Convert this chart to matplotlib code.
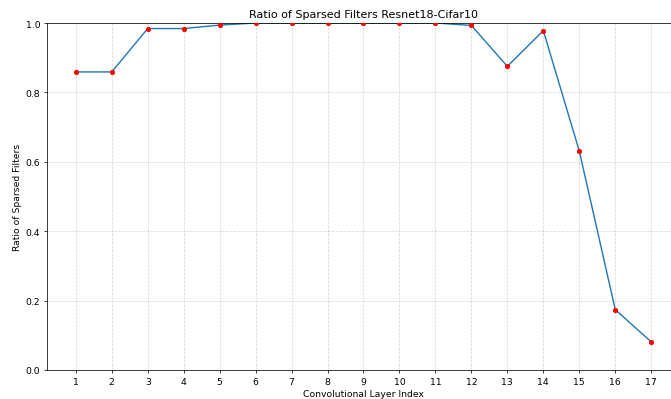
import matplotlib
matplotlib.use("Agg")
import matplotlib.pyplot as plt

layers = list(range(1, 18))
ratios = [0.859, 0.859, 0.984, 0.984, 0.994, 1.0, 1.0, 1.0, 1.0, 1.0, 1.0,
          0.993, 0.875, 0.978, 0.631, 0.174, 0.081]

DPI = 67.1
fig = plt.figure(figsize=(671/DPI, 400/DPI), dpi=DPI)
ax = fig.add_axes([47/671, 29/400, (680-47)/671, (371-24)/400])
ax.plot(layers, ratios, color="#1f77b4", linewidth=1.5, zorder=2)
ax.plot(layers, ratios, 'o', color="red", markersize=4.5, zorder=3)
ax.set_xlim(0.2, 17.8)
ax.set_ylim(0, 1)
ax.set_xticks(layers)
ax.set_yticks([0.0, 0.2, 0.4, 0.6, 0.8, 1.0])
ax.grid(True, linestyle='--', alpha=0.5)
ax.set_xlabel("Convolutional Layer Index")
ax.set_ylabel("Ratio of Sparsed Filters")
ax.set_title("Ratio of Sparsed Filters Resnet18-Cifar10")
fig.savefig("out.png", dpi=DPI)
